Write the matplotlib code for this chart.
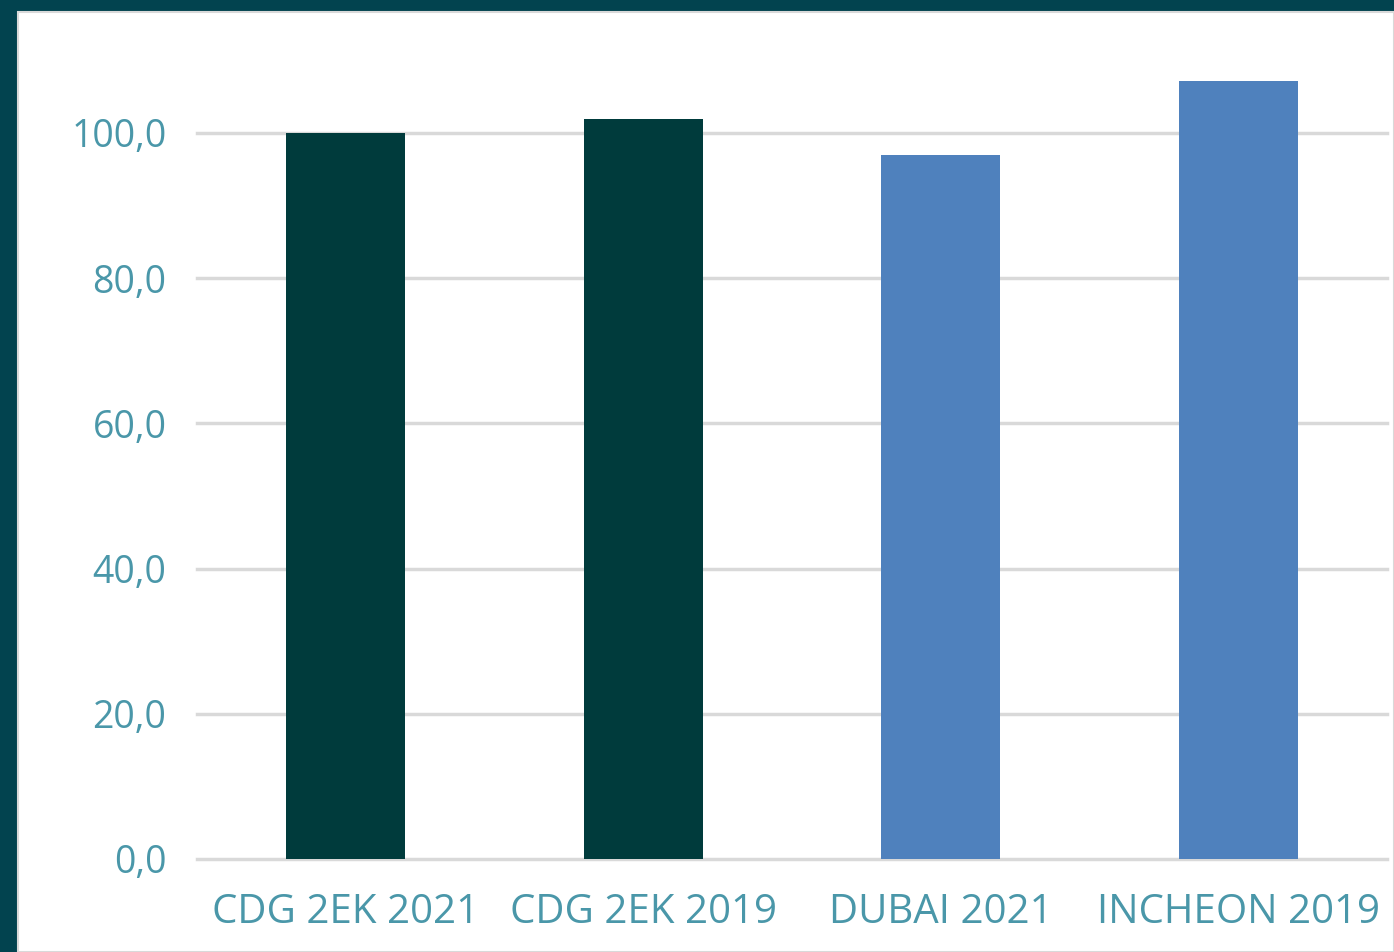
import matplotlib.pyplot as plt
from matplotlib.patches import Rectangle
from matplotlib.ticker import FuncFormatter

categories = ["CDG 2EK 2021", "CDG 2EK 2019", "DUBAI 2021", "INCHEON 2019"]
values = [100.0, 101.9, 97.0, 107.2]
bar_colors = ["#003b3c", "#003b3c", "#4f81bd", "#4f81bd"]
y_ticks = [0, 20, 40, 60, 80, 100]

W, H = 1394, 952
fig = plt.figure(figsize=(W / 100, H / 100), dpi=100, facecolor="#02434f")

# panneau blanc derrière le graphique
fig.patches.append(Rectangle((18 / W, 0), 1 - 18 / W, (H - 12) / H,
                             transform=fig.transFigure, facecolor="white",
                             edgecolor="#d9d9d9", linewidth=1.5, zorder=-10))

ax = fig.add_axes([197 / W, (H - 859) / H, (1387 - 197) / W, 110 * 7.26 / H])
ax.set_zorder(1)
ax.set_facecolor("none")

x = range(len(categories))
ax.bar(x, values, width=0.4, color=bar_colors, zorder=3)

ax.set_xlim(-0.5, 3.5)
ax.set_ylim(0, 110)
ax.set_yticks(y_ticks)
ax.yaxis.set_major_formatter(FuncFormatter(lambda v, p: f"{v:.1f}".replace(".", ",")))
ax.set_xticks(list(x))
ax.set_xticklabels(categories)

ax.grid(axis="y", color="#d9d9d9", linewidth=2.5, zorder=0)
for gl in ax.get_ygridlines():
    gl.set_clip_on(False)
ax.set_axisbelow(True)
for s in ax.spines.values():
    s.set_visible(False)
ax.tick_params(axis="both", length=0, labelcolor="#4a97a9")
ax.tick_params(axis="y", pad=22, labelsize=27)
ax.tick_params(axis="x", pad=24, labelsize=29)
for lab in ax.get_xticklabels() + ax.get_yticklabels():
    lab.set_family("Open Sans")

fig.savefig("out.png", dpi=100, facecolor=fig.get_facecolor())
